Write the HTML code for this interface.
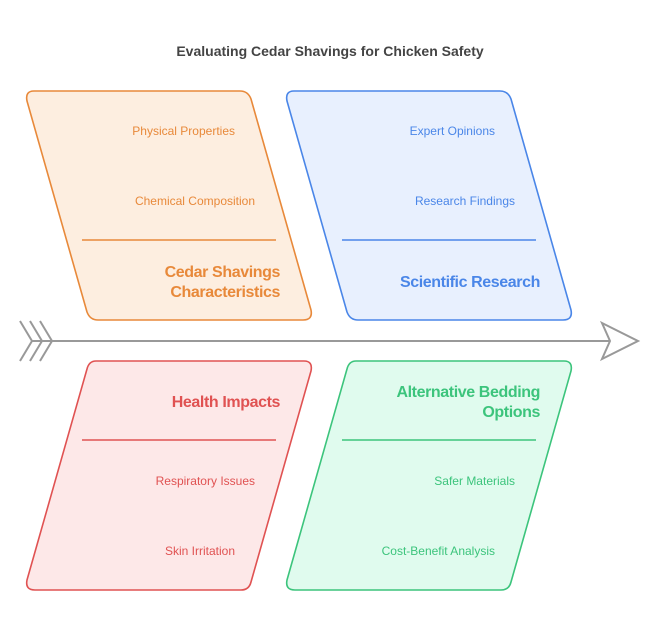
<!DOCTYPE html>
<html><head><meta charset="utf-8"><style>body{margin:0;background:#fff}svg{display:block}text{font-family:"Liberation Sans",Arial,sans-serif}</style></head><body>
<svg width="660" height="632" viewBox="0 0 660 632">
<text x="330" y="56" text-anchor="middle" font-size="14" font-weight="bold" fill="#444">Evaluating Cedar Shavings for Chicken Safety</text>
<g stroke-linejoin="round" stroke-width="1.6">
<path d="M34,91 L240,91 Q248,91 251,99 L311,310 Q313,320 303,320 L98,320 Q90,320 87,312 L27,101 Q25,91 34,91Z" fill="#fdeee0" stroke="#e8893a"/>
<path d="M294,91 L500,91 Q508,91 511,99 L571,310 Q573,320 563,320 L358,320 Q350,320 347,312 L287,101 Q285,91 294,91Z" fill="#e8f0fe" stroke="#4a86e8"/>
<path d="M96,361 L304,361 Q313,361 311,371 L251,582 Q249,590 241,590 L35,590 Q25,590 27,580 L87,369 Q89,361 96,361Z" fill="#fde8e8" stroke="#e05252"/>
<path d="M356,361 L564,361 Q573,361 571,371 L511,582 Q509,590 501,590 L295,590 Q285,590 287,580 L347,369 Q349,361 356,361Z" fill="#e0fbee" stroke="#3cc47c"/>
</g>
<line x1="82" y1="240" x2="276" y2="240" stroke="#e8893a" stroke-width="1.6"/>
<line x1="342" y1="240" x2="536" y2="240" stroke="#4a86e8" stroke-width="1.6"/>
<line x1="82" y1="440" x2="276" y2="440" stroke="#e05252" stroke-width="1.6"/>
<line x1="342" y1="440" x2="536" y2="440" stroke="#3cc47c" stroke-width="1.6"/>
<g font-size="12" text-anchor="end">
<text x="235" y="135" fill="#e8893a">Physical Properties</text>
<text x="255" y="205" fill="#e8893a">Chemical Composition</text>
<text x="495" y="135" fill="#4a86e8">Expert Opinions</text>
<text x="515" y="205" fill="#4a86e8">Research Findings</text>
<text x="255" y="485" fill="#e05252">Respiratory Issues</text>
<text x="235" y="555" fill="#e05252">Skin Irritation</text>
<text x="515" y="485" fill="#3cc47c">Safer Materials</text>
<text x="495" y="555" fill="#3cc47c">Cost-Benefit Analysis</text>
</g>
<g font-size="16" font-weight="bold" text-anchor="end" letter-spacing="-0.4">
<text x="280" y="277" fill="#e8893a">Cedar Shavings</text>
<text x="280" y="297" fill="#e8893a">Characteristics</text>
<text x="540" y="287" fill="#4a86e8">Scientific Research</text>
<text x="280" y="407" fill="#e05252">Health Impacts</text>
<text x="540" y="397" fill="#3cc47c">Alternative Bedding</text>
<text x="540" y="417" fill="#3cc47c">Options</text>
</g>
<g stroke="#999" stroke-width="2" fill="none">
<line x1="32" y1="341" x2="610" y2="341"/>
<path d="M20,321 L32,341 L20,361 M30,321 L42,341 L30,361 M40,321 L52,341 L40,361"/>
<path d="M602,323 L638,341 L602,359 L610,341 Z" fill="#fff"/>
</g>
</svg>
</body></html>
